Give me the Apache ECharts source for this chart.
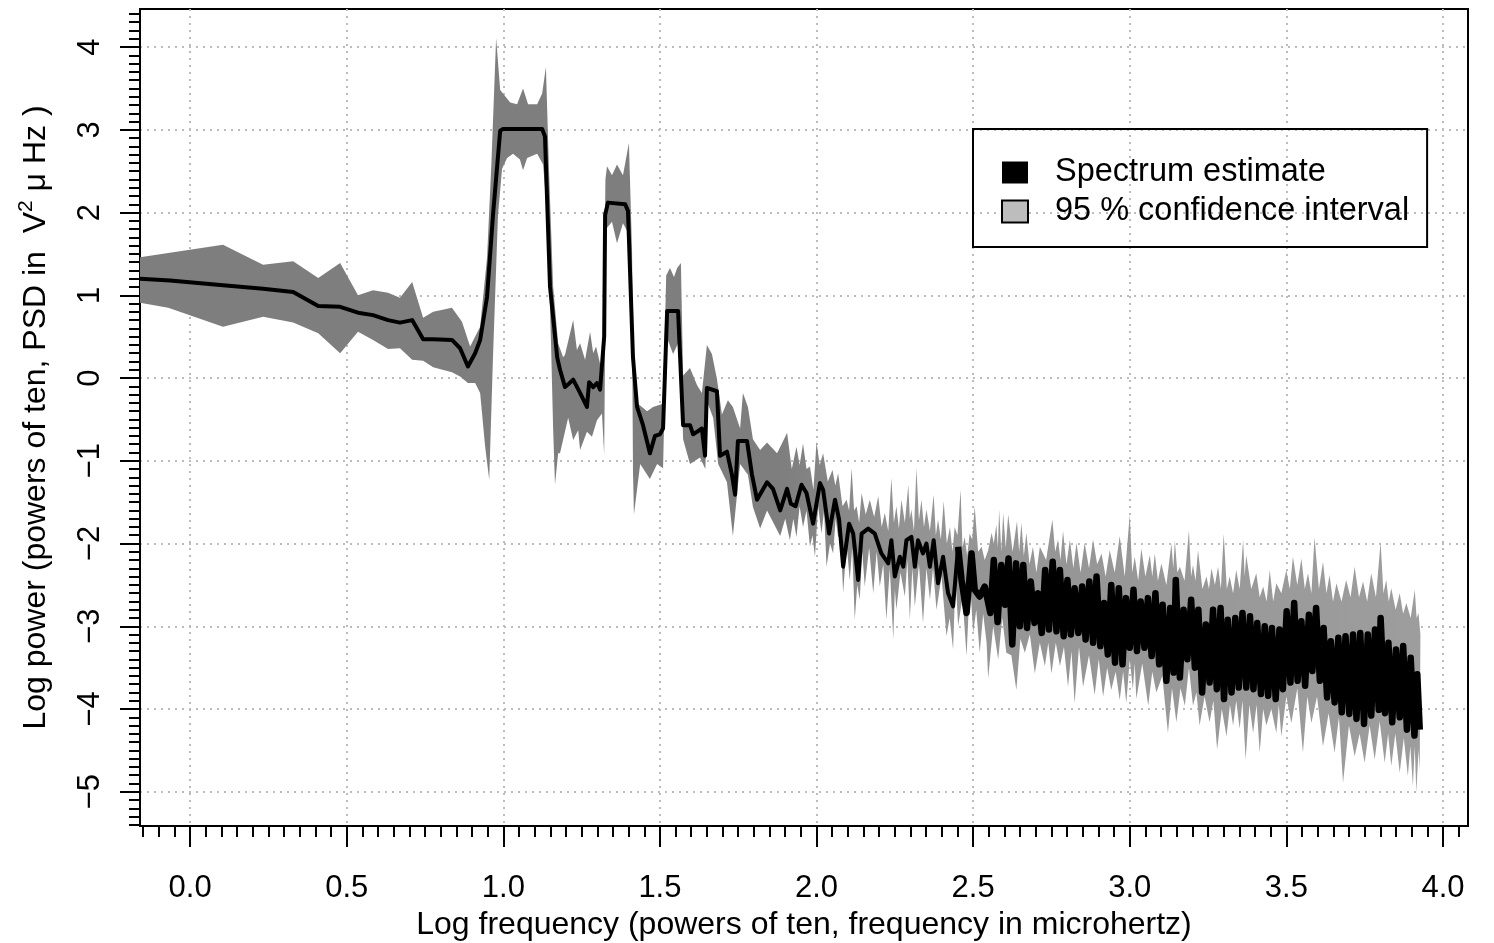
<!DOCTYPE html>
<html>
<head>
<meta charset="utf-8">
<title>Spectrum estimate</title>
<script src="https://cdn.jsdelivr.net/npm/echarts@6/dist/echarts.min.js"></script>
<style>
  html, body { margin: 0; padding: 0; background: #fff; }
  #chart { width: 1494px; height: 943px; }
</style>
</head>
<body>
<div id="chart"></div>
<script>
// names shown in the legend
const seriesNames = ['Spectrum estimate', '95 % confidence interval'];

// axis ticks and their labels
const xMajorTicks = [0, 0.5, 1, 1.5, 2, 2.5, 3, 3.5, 4];
const xTickLabels = ['0.0', '0.5', '1.0', '1.5', '2.0', '2.5', '3.0', '3.5', '4.0'];
const yMajorTicks = [-5, -4, -3, -2, -1, 0, 1, 2, 3, 4];
const yTickLabels = ['\u22125', '\u22124', '\u22123', '\u22122', '\u22121', '0', '1', '2', '3', '4'];

// spectrum estimate: [log10 frequency, log10 power]
const spectrum = [
  [-0.160,1.20],[-0.064,1.18],[0.105,1.12],[0.233,1.08],[0.329,1.04],[0.409,0.87],[0.479,0.86],
  [0.536,0.79],[0.584,0.76],[0.632,0.70],[0.670,0.67],[0.709,0.70],[0.744,0.47],[0.776,0.47],
  [0.836,0.46],[0.862,0.36],[0.887,0.14],[0.910,0.30],[0.926,0.46],[0.948,0.98],[0.967,1.97],
  [0.990,2.99],[0.999,3.01],[1.124,3.01],[1.133,2.92],[1.149,1.11],[1.172,0.25],[1.181,0.10],
  [1.197,-0.11],[1.223,-0.02],[1.245,-0.18],[1.267,-0.35],[1.274,-0.05],[1.287,-0.11],[1.299,-0.06],
  [1.309,-0.14],[1.322,0.50],[1.325,1.97],[1.334,2.12],[1.389,2.10],[1.398,2.02],[1.414,0.25],
  [1.427,-0.35],[1.446,-0.57],[1.468,-0.91],[1.484,-0.70],[1.500,-0.68],[1.510,-0.61],[1.523,0.81],
  [1.558,0.81],[1.574,-0.57],[1.596,-0.57],[1.606,-0.68],[1.634,-0.61],[1.644,-0.94],[1.650,-0.12],
  [1.682,-0.16],[1.692,-0.94],[1.714,-0.89],[1.730,-1.17],[1.740,-1.41],[1.749,-0.76],[1.778,-0.76],
  [1.794,-1.17],[1.810,-1.47],[1.842,-1.26],[1.861,-1.34],[1.884,-1.60],[1.906,-1.34],[1.918,-1.52],
  [1.933,-1.55],[1.952,-1.29],[1.968,-1.39],[1.989,-1.76],[2.011,-1.27],[2.021,-1.35],[2.040,-1.88],
  [2.059,-1.47],[2.072,-1.71],[2.085,-2.28],[2.104,-1.76],[2.117,-1.88],[2.133,-2.44],[2.144,-1.88],
  [2.165,-1.82],[2.186,-1.88],[2.207,-2.12],[2.229,-2.24],[2.239,-1.96],[2.250,-2.40],[2.266,-2.16],
  [2.277,-2.28],[2.287,-1.96],[2.303,-1.92],[2.314,-2.28],[2.324,-1.96],[2.340,-2.12],[2.351,-2.00],
  [2.362,-2.28],[2.374,-1.96],[2.388,-2.48],[2.404,-2.16],[2.420,-2.60],[2.436,-2.76],[2.452,-2.04],
  [2.463,-2.44],[2.479,-2.84],[2.495,-2.12],[2.505,-2.56],[2.521,-2.64],[2.537,-2.52],[2.555,-2.84],
  [2.566,-2.20],[2.578,-2.95],[2.590,-2.26],[2.602,-2.74],[2.613,-2.18],[2.625,-3.22],[2.637,-2.24],
  [2.649,-3.00],[2.660,-2.26],[2.672,-3.02],[2.684,-2.46],[2.696,-2.96],[2.707,-2.60],[2.719,-3.08],
  [2.730,-2.32],[2.742,-3.04],[2.754,-2.22],[2.766,-3.06],[2.777,-2.32],[2.789,-3.12],[2.801,-2.44],
  [2.812,-3.10],[2.824,-2.54],[2.836,-3.08],[2.848,-2.52],[2.859,-3.16],[2.871,-2.46],[2.883,-3.20],
  [2.894,-2.40],[2.906,-3.24],[2.918,-2.72],[2.930,-3.34],[2.941,-2.50],[2.953,-3.44],[2.965,-2.54],
  [2.977,-3.46],[2.988,-2.66],[3.000,-3.26],[3.012,-2.56],[3.023,-3.30],[3.035,-2.70],[3.047,-3.26],
  [3.058,-2.66],[3.070,-3.36],[3.082,-2.60],[3.094,-3.46],[3.105,-2.74],[3.117,-3.66],[3.129,-2.78],
  [3.140,-3.56],[3.147,-2.44],[3.160,-3.62],[3.172,-2.80],[3.184,-3.40],[3.196,-2.68],[3.208,-3.50],
  [3.219,-2.80],[3.231,-3.80],[3.243,-2.98],[3.255,-3.68],[3.266,-2.80],[3.278,-3.76],[3.290,-2.78],
  [3.301,-3.88],[3.313,-2.92],[3.325,-3.80],[3.337,-2.90],[3.348,-3.74],[3.360,-2.84],[3.372,-3.74],
  [3.384,-2.88],[3.395,-3.76],[3.407,-2.96],[3.419,-3.82],[3.431,-3.00],[3.442,-3.84],[3.454,-3.02],
  [3.466,-3.88],[3.478,-3.04],[3.489,-3.76],[3.501,-2.82],[3.513,-3.68],[3.525,-2.72],[3.536,-3.66],
  [3.548,-2.94],[3.560,-3.72],[3.572,-2.86],[3.583,-3.54],[3.595,-2.78],[3.607,-3.66],[3.619,-3.02],
  [3.630,-3.86],[3.642,-3.18],[3.654,-3.92],[3.666,-3.14],[3.677,-4.04],[3.689,-3.12],[3.701,-4.06],
  [3.713,-3.10],[3.724,-4.12],[3.736,-3.08],[3.748,-4.18],[3.760,-3.10],[3.771,-4.08],[3.783,-3.04],
  [3.795,-4.01],[3.801,-2.90],[3.815,-4.05],[3.826,-3.20],[3.838,-4.16],[3.850,-3.28],[3.862,-4.10],
  [3.873,-3.24],[3.885,-4.25],[3.897,-3.38],[3.909,-4.32],[3.918,-3.58],[3.926,-4.25]
];

// upper edge of the 95 % confidence band
const ciUpper = [
  [-0.160,1.46],[-0.070,1.51],[0.105,1.61],[0.233,1.37],[0.329,1.41],[0.409,1.21],[0.479,1.39],
  [0.536,1.00],[0.584,1.06],[0.632,1.03],[0.670,0.97],[0.709,1.16],[0.744,0.73],[0.776,0.80],
  [0.836,0.85],[0.868,0.68],[0.894,0.38],[0.926,0.62],[0.948,1.45],[0.962,2.60],[0.977,4.11],
  [0.990,3.48],[1.022,3.33],[1.044,3.31],[1.063,3.50],[1.079,3.31],[1.108,3.31],[1.124,3.44],
  [1.136,3.76],[1.146,2.49],[1.159,1.11],[1.175,0.42],[1.191,0.25],[1.197,0.28],[1.223,0.70],
  [1.235,0.34],[1.245,0.42],[1.261,0.22],[1.277,0.56],[1.287,0.30],[1.296,0.38],[1.306,0.22],
  [1.318,0.01],[1.321,0.80],[1.326,2.40],[1.331,2.56],[1.347,2.45],[1.363,2.58],[1.382,2.45],
  [1.401,2.84],[1.411,1.54],[1.414,0.34],[1.430,-0.31],[1.459,-0.40],[1.478,-0.35],[1.510,-0.31],
  [1.520,1.24],[1.532,1.33],[1.545,1.22],[1.555,1.33],[1.567,1.39],[1.574,0.03],[1.596,0.12],
  [1.619,-0.09],[1.634,-0.18],[1.650,0.40],[1.666,0.29],[1.682,-0.01],[1.698,-0.44],[1.717,-0.27],
  [1.733,-0.35],[1.756,-0.61],[1.765,-0.18],[1.781,-0.35],[1.797,-0.74],[1.820,-0.87],[1.842,-0.78],
  [1.874,-0.91],[1.895,-0.75],[1.906,-0.66],[1.921,-1.10],[1.936,-0.83],[1.946,-1.05],[1.957,-0.79],
  [1.968,-1.10],[1.979,-1.07],[1.990,-1.35],[2.000,-0.77],[2.010,-1.05],[2.021,-0.91],[2.036,-1.25],
  [2.051,-1.11],[2.060,-1.30],[2.069,-1.15],[2.083,-1.55],[2.096,-1.47],[2.104,-1.60],[2.112,-1.09],
  [2.120,-1.60],[2.128,-1.55],[2.136,-1.75],[2.144,-1.39],[2.157,-1.65],[2.170,-1.47],[2.184,-1.68],
  [2.197,-1.43],[2.208,-1.80],[2.218,-1.63],[2.229,-1.85],[2.239,-1.21],[2.247,-1.75],[2.255,-1.55],
  [2.263,-1.82],[2.271,-1.47],[2.282,-1.75],[2.293,-1.29],[2.298,-1.70],[2.303,-1.59],[2.311,-1.85],
  [2.319,-1.09],[2.327,-1.72],[2.335,-1.47],[2.343,-1.80],[2.351,-1.59],[2.362,-1.85],[2.374,-1.41],
  [2.381,-1.90],[2.388,-1.71],[2.397,-1.95],[2.406,-1.49],[2.416,-2.00],[2.426,-1.80],[2.434,-2.10],
  [2.441,-1.80],[2.450,-1.90],[2.460,-1.35],[2.466,-2.05],[2.473,-1.92],[2.481,-2.15],[2.489,-1.88],
  [2.497,-1.95],[2.505,-1.55],[2.516,-2.10],[2.527,-2.04],[2.537,-2.20],[2.548,-2.08],[2.559,-1.87],
  [2.566,-2.00],[2.574,-1.77],[2.579,-2.05],[2.583,-1.59],[2.590,-2.10],[2.596,-1.63],[2.604,-2.05],
  [2.612,-1.65],[2.626,-2.10],[2.640,-1.73],[2.647,-2.10],[2.654,-1.75],[2.662,-2.15],[2.670,-1.87],
  [2.680,-2.25],[2.691,-2.04],[2.702,-2.35],[2.713,-2.04],[2.733,-2.20],[2.753,-1.71],[2.762,-2.10],
  [2.771,-1.95],[2.779,-2.20],[2.787,-1.85],[2.798,-2.25],[2.809,-1.95],[2.820,-2.30],[2.830,-1.99],
  [2.843,-2.35],[2.856,-1.99],[2.870,-2.30],[2.883,-1.95],[2.896,-2.25],[2.910,-2.12],[2.923,-2.40],
  [2.936,-2.08],[2.952,-2.35],[2.968,-1.91],[2.984,-2.40],[3.000,-1.65],[3.008,-2.35],[3.016,-2.16],
  [3.027,-2.45],[3.037,-2.06],[3.050,-2.40],[3.064,-2.14],[3.072,-2.40],[3.080,-2.12],[3.090,-2.45],
  [3.101,-2.24],[3.117,-2.50],[3.133,-2.00],[3.139,-2.30],[3.144,-1.96],[3.152,-2.35],[3.160,-2.28],
  [3.175,-2.45],[3.189,-1.84],[3.196,-2.40],[3.202,-2.26],[3.210,-2.45],[3.218,-2.08],[3.232,-2.55],
  [3.245,-2.40],[3.253,-2.55],[3.261,-2.30],[3.272,-2.50],[3.282,-2.28],[3.291,-2.55],[3.300,-1.88],
  [3.310,-2.55],[3.319,-2.40],[3.330,-2.60],[3.340,-2.32],[3.351,-2.55],[3.362,-1.95],[3.367,-2.40],
  [3.372,-2.14],[3.388,-2.55],[3.404,-2.36],[3.415,-2.65],[3.426,-2.52],[3.437,-2.70],[3.447,-2.32],
  [3.458,-2.70],[3.468,-2.48],[3.484,-2.60],[3.500,-2.32],[3.511,-2.55],[3.521,-2.16],[3.535,-2.50],
  [3.548,-2.18],[3.559,-2.55],[3.569,-2.36],[3.580,-2.60],[3.590,-1.92],[3.604,-2.55],[3.617,-2.22],
  [3.628,-2.60],[3.638,-2.38],[3.649,-2.70],[3.660,-2.48],[3.676,-2.70],[3.691,-2.44],[3.705,-2.65],
  [3.718,-2.28],[3.732,-2.65],[3.745,-2.46],[3.758,-2.70],[3.771,-2.36],[3.786,-2.65],[3.801,-1.98],
  [3.810,-2.60],[3.819,-2.44],[3.827,-2.70],[3.835,-2.54],[3.849,-2.80],[3.862,-2.60],[3.873,-2.85],
  [3.883,-2.72],[3.897,-2.90],[3.910,-2.56],[3.916,-2.90],[3.922,-2.84],[3.928,-3.10]
];

// lower edge of the 95 % confidence band
const ciLower = [
  [-0.160,0.91],[-0.070,0.85],[0.105,0.62],[0.233,0.74],[0.329,0.67],[0.409,0.54],[0.479,0.30],
  [0.536,0.56],[0.584,0.46],[0.632,0.35],[0.670,0.36],[0.709,0.22],[0.744,0.21],[0.776,0.13],
  [0.836,0.07],[0.862,0.02],[0.887,-0.06],[0.910,-0.06],[0.926,-0.18],[0.942,-0.83],[0.955,-1.23],
  [0.967,0.25],[0.983,1.97],[0.996,2.53],[1.012,2.66],[1.031,2.71],[1.053,2.64],[1.063,2.51],
  [1.076,2.66],[1.108,2.71],[1.127,2.58],[1.140,1.97],[1.152,0.47],[1.159,-0.61],[1.165,-1.29],
  [1.175,-0.91],[1.181,-0.91],[1.207,-0.48],[1.223,-0.75],[1.239,-0.63],[1.245,-0.87],[1.267,-0.65],
  [1.283,-0.71],[1.299,-0.51],[1.315,-0.43],[1.322,-0.93],[1.328,1.80],[1.347,1.89],[1.363,1.63],
  [1.382,1.87],[1.398,1.76],[1.411,0.68],[1.414,-1.13],[1.417,-1.65],[1.437,-1.04],[1.468,-1.22],
  [1.491,-1.04],[1.510,-1.09],[1.520,0.51],[1.542,0.29],[1.564,0.47],[1.574,-0.74],[1.596,-1.04],
  [1.628,-0.96],[1.645,-1.10],[1.652,-0.30],[1.670,-0.48],[1.686,-1.04],[1.714,-1.26],[1.733,-1.91],
  [1.756,-1.04],[1.781,-1.17],[1.797,-1.56],[1.820,-1.82],[1.842,-1.60],[1.884,-1.91],[1.900,-1.70],
  [1.915,-1.96],[1.926,-1.70],[1.936,-1.92],[1.946,-1.55],[1.957,-1.80],[1.968,-1.60],[1.979,-2.04],
  [1.987,-1.90],[1.995,-2.16],[2.005,-1.55],[2.016,-1.88],[2.024,-1.60],[2.032,-2.28],[2.043,-2.00],
  [2.053,-2.12],[2.061,-1.70],[2.069,-1.92],[2.077,-1.90],[2.085,-2.60],[2.096,-2.00],[2.106,-2.44],
  [2.114,-2.05],[2.122,-2.92],[2.130,-2.50],[2.138,-2.68],[2.146,-2.10],[2.154,-2.52],[2.168,-2.05],
  [2.181,-2.60],[2.192,-2.10],[2.202,-2.52],[2.213,-2.25],[2.223,-2.92],[2.234,-2.30],[2.245,-3.16],
  [2.250,-2.55],[2.255,-2.80],[2.268,-2.35],[2.282,-2.64],[2.290,-2.20],[2.298,-2.92],[2.306,-2.30],
  [2.314,-2.76],[2.327,-2.25],[2.340,-2.96],[2.351,-2.30],[2.362,-2.68],[2.372,-2.30],[2.383,-2.80],
  [2.399,-2.40],[2.415,-3.12],[2.425,-2.90],[2.436,-3.28],[2.444,-2.40],[2.452,-3.00],[2.466,-2.65],
  [2.479,-3.36],[2.490,-2.45],[2.500,-3.08],[2.510,-2.80],[2.521,-3.32],[2.532,-2.85],[2.543,-3.20],
  [2.548,-3.63],[2.564,-3.00],[2.580,-3.40],[2.593,-2.90],[2.606,-3.32],[2.622,-3.35],[2.638,-3.77],
  [2.651,-3.15],[2.665,-3.32],[2.681,-3.10],[2.697,-3.57],[2.713,-3.20],[2.729,-3.48],[2.740,-3.20],
  [2.750,-3.57],[2.764,-3.20],[2.777,-3.48],[2.790,-3.25],[2.803,-3.73],[2.814,-3.30],[2.824,-3.93],
  [2.838,-3.25],[2.851,-3.73],[2.870,-3.35],[2.888,-3.83],[2.901,-3.40],[2.915,-3.85],[2.928,-3.50],
  [2.941,-3.77],[2.955,-3.55],[2.968,-3.89],[2.979,-3.55],[2.989,-3.93],[3.000,-3.40],[3.010,-3.76],
  [3.016,-3.45],[3.021,-3.88],[3.040,-3.45],[3.059,-3.96],[3.072,-3.55],[3.085,-3.80],[3.104,-3.60],
  [3.122,-4.29],[3.135,-3.75],[3.149,-4.16],[3.162,-3.75],[3.176,-3.96],[3.189,-3.50],[3.202,-3.96],
  [3.213,-3.80],[3.223,-4.20],[3.239,-3.85],[3.255,-4.16],[3.267,-3.90],[3.279,-4.49],[3.294,-4.00],
  [3.309,-4.33],[3.320,-3.95],[3.330,-4.20],[3.340,-3.90],[3.351,-4.24],[3.360,-3.90],[3.370,-4.61],
  [3.382,-3.95],[3.394,-4.29],[3.405,-3.95],[3.415,-4.53],[3.426,-4.00],[3.436,-4.20],[3.452,-4.00],
  [3.468,-4.29],[3.476,-3.95],[3.484,-4.33],[3.500,-3.85],[3.516,-4.17],[3.535,-3.75],[3.553,-4.53],
  [3.567,-3.85],[3.580,-4.17],[3.598,-3.85],[3.617,-4.45],[3.635,-4.05],[3.654,-4.53],[3.668,-4.10],
  [3.681,-4.89],[3.700,-4.20],[3.718,-4.57],[3.734,-4.30],[3.750,-4.65],[3.766,-4.20],[3.782,-4.61],
  [3.798,-4.15],[3.814,-4.65],[3.825,-4.30],[3.835,-4.69],[3.848,-4.30],[3.862,-4.77],[3.875,-4.35],
  [3.888,-4.81],[3.896,-4.45],[3.904,-4.93],[3.910,-4.45],[3.915,-5.01],[3.922,-4.50],[3.926,-4.73]
];

// minor tick positions (every 0.05 on x, every 0.1 on y)
const xMinorTicks = [];
for (let i = -3; i <= 81; i++) xMinorTicks.push(+(i * 0.05).toFixed(2));
const yMinorTicks = [];
for (let i = -54; i <= 44; i++) yMinorTicks.push(+(i * 0.1).toFixed(1));

const FONT = '"Liberation Sans", Arial, Helvetica, sans-serif';
const X_MIN = -0.16, X_MAX = 4.08, Y_MIN = -5.414, Y_MAX = 4.46;
// where the spectrum turns into a dense, noisy trace (drawn heavier)
const DENSE_FROM = 2.452;

// band polygon: along the upper edge, back along the lower edge
const bandPoints = ciUpper.concat(ciLower.slice().reverse());
const spectrumSmooth = spectrum.filter(p => p[0] <= DENSE_FROM);
const spectrumDense = spectrum.filter(p => p[0] >= DENSE_FROM);

const chart = echarts.init(document.getElementById('chart'));

const tickLine = { color: '#000', width: 2 };
const gridDots = { color: '#bcbcbc', width: 2, type: [2, 5] };

const option = {
  animation: false,
  textStyle: { fontFamily: FONT },
  grid: {
    left: 140, right: 26, top: 9, bottom: 117,
    outerBoundsMode: 'none',
    show: true, borderColor: '#000', borderWidth: 2, backgroundColor: 'transparent'
  },
  legend: {
    orient: 'vertical',
    left: 973, top: 129,
    padding: [27, 18, 19, 28],
    borderColor: '#000', borderWidth: 2,
    itemWidth: 26, itemHeight: 22, itemGap: 6,
    selectedMode: false,
    textStyle: { fontSize: 32.5, color: '#000', fontFamily: FONT, padding: [0, 0, 0, 22] },
    data: [
      { name: seriesNames[0], icon: 'rect', itemStyle: { color: '#000', borderWidth: 0 } },
      { name: seriesNames[1], icon: 'rect', itemStyle: { color: '#bdbdbd', borderColor: '#000', borderWidth: 2 } }
    ]
  },
  xAxis: [
    {
      type: 'value', min: X_MIN, max: X_MAX, position: 'bottom',
      axisLine: { show: true, onZero: false, lineStyle: tickLine },
      axisTick: { show: true, customValues: xMajorTicks, length: 21, lineStyle: tickLine },
      axisLabel: {
        customValues: xMajorTicks, fontSize: 31, color: '#000', fontFamily: FONT, margin: 47,
        formatter: v => xTickLabels[xMajorTicks.indexOf(v)]
      },
      splitLine: { show: true, lineStyle: gridDots },
      name: 'Log frequency (powers of ten, frequency in microhertz)',
      nameLocation: 'middle', nameGap: 83,
      nameTextStyle: { fontSize: 32, color: '#000', fontFamily: FONT }
    },
    {
      type: 'value', min: X_MIN, max: X_MAX, position: 'bottom',
      axisLine: { show: false, onZero: false },
      axisTick: { show: true, customValues: xMinorTicks, length: 11, lineStyle: tickLine },
      axisLabel: { show: false },
      splitLine: { show: false }
    }
  ],
  yAxis: [
    {
      type: 'value', min: Y_MIN, max: Y_MAX, position: 'left',
      axisLine: { show: true, onZero: false, lineStyle: tickLine },
      axisTick: { show: true, customValues: yMajorTicks, length: 20, lineStyle: tickLine },
      axisLabel: {
        customValues: yMajorTicks, rotate: 90, fontSize: 31, color: '#000', fontFamily: FONT, margin: 34,
        formatter: v => yTickLabels[yMajorTicks.indexOf(v)]
      },
      splitLine: { show: true, lineStyle: gridDots },
      name: '{a|Log power (powers of ten, PSD in  V}{s|2}{a| \u03bc Hz )}',
      nameLocation: 'middle', nameGap: 84, nameRotate: 90,
      nameTextStyle: {
        color: '#000', fontFamily: FONT,
        rich: {
          a: { fontSize: 32, color: '#000', fontFamily: FONT, lineHeight: 40 },
          s: { fontSize: 21, color: '#000', fontFamily: FONT, lineHeight: 40, verticalAlign: 'top' }
        }
      }
    },
    {
      type: 'value', min: Y_MIN, max: Y_MAX, position: 'left',
      axisLine: { show: false, onZero: false },
      axisTick: { show: true, customValues: yMinorTicks, length: 11, lineStyle: tickLine },
      axisLabel: { show: false },
      splitLine: { show: false }
    }
  ],
  series: [
    {
      name: seriesNames[1],
      type: 'custom',
      coordinateSystem: 'cartesian2d',
      xAxisIndex: 0, yAxisIndex: 0,
      silent: true, z: 2,
      itemStyle: { color: '#bdbdbd' },
      data: [[0, 0]],
      renderItem: function (params, api) {
        const pts = bandPoints.map(p => api.coord(p));
        return {
          type: 'polygon',
          shape: { points: pts },
          style: {
            fill: {
              type: 'linear', x: 0, y: 0, x2: 1, y2: 0,
              colorStops: [
                { offset: 0, color: '#7e7e7e' },
                { offset: 0.5, color: '#7e7e7e' },
                { offset: 0.6, color: '#939393' },
                { offset: 1, color: '#9d9d9d' }
              ]
            },
            stroke: null
          }
        };
      }
    },
    {
      name: seriesNames[0],
      type: 'line',
      xAxisIndex: 0, yAxisIndex: 0,
      data: spectrumSmooth,
      symbol: 'none',
      showSymbol: false,
      silent: true, z: 3,
      itemStyle: { color: '#000' },
      lineStyle: { color: '#000', width: 4, join: 'round' }
    },
    {
      name: seriesNames[0],
      type: 'line',
      xAxisIndex: 0, yAxisIndex: 0,
      data: spectrumDense,
      symbol: 'none',
      showSymbol: false,
      silent: true, z: 3,
      itemStyle: { color: '#000' },
      lineStyle: { color: '#000', width: 6.5, join: 'round' }
    }
  ]
};

chart.setOption(option);
</script>
</body>
</html>
